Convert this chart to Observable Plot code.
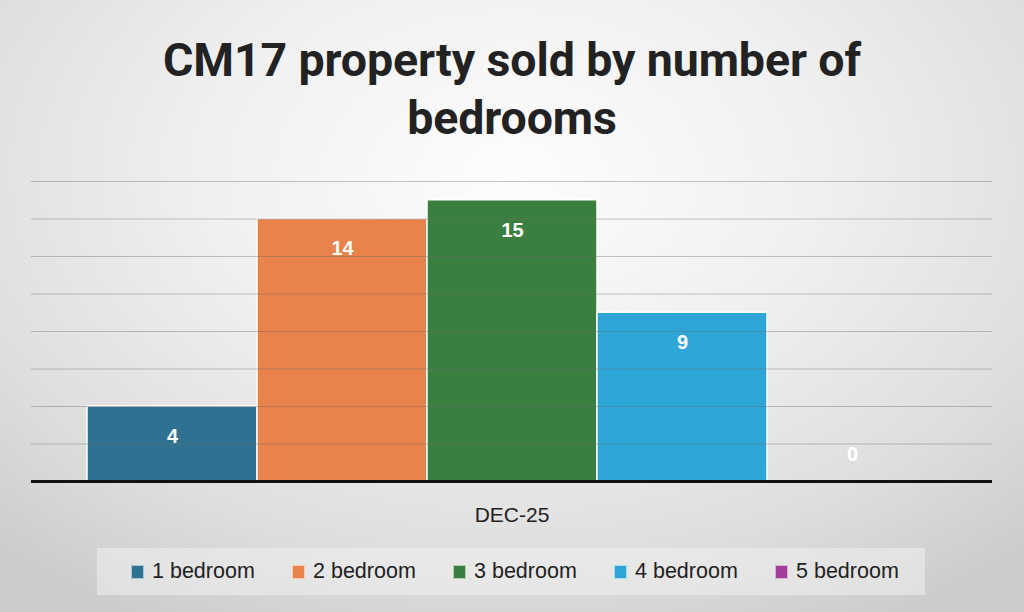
<!DOCTYPE html>
<html>
<head>
<meta charset="utf-8">
<script src="https://cdn.jsdelivr.net/npm/d3@7"></script>
<script src="https://cdn.jsdelivr.net/npm/@observablehq/plot@0.6"></script>
<style>
  html, body { margin: 0; padding: 0; }
  #page {
    position: relative; width: 1024px; height: 612px; overflow: hidden;
    background: radial-gradient(ellipse 75% 85% at 50% 28%, #fdfdfd 0%, #f0f0f0 40%, #dedede 75%, #cbcbcb 100%);
    font-family: "Liberation Sans", Arial, sans-serif;
  }
  #title {
    position: absolute; left: 0; top: 0; width: 1024px; height: 150px;
    text-align: center; font-family: Roboto, "Noto Sans", sans-serif; font-weight: 700;
    font-size: 46.5px; line-height: 58px; color: #222; padding-top: 31px; box-sizing: border-box;
    letter-spacing: -0.1px;
  }
  #chart { position: absolute; left: 0; top: 150px; }
  #legend {
    position: absolute; left: 97px; top: 548px; width: 828px; height: 47px;
    background: rgba(240,240,240,0.55); display: flex; align-items: center; box-sizing: border-box;
    padding-left: 34px;
  }
  .item { width: 161px; flex-shrink: 0; display: flex; align-items: center; font-size: 21.5px; color: #222; }
  .sw { width: 11px; height: 12px; margin-right: 8px; border: 0.5px solid rgba(255,255,255,0.6); }
</style>
</head>
<body>
<div id="page">
  <div id="title">CM17 property sold by number of<br>bedrooms</div>
  <div id="chart"></div>
  <div id="legend"></div>
</div>
<script>
const period = "DEC-25";
const bedrooms = ["1 bedroom", "2 bedroom", "3 bedroom", "4 bedroom", "5 bedroom"];
const counts = [4, 14, 15, 9, 0];
const colors = ["#2f7191", "#e8834b", "#3a7f40", "#2ea6d8", "#a23d9b"];
const gridTicks = [2, 4, 6, 8, 10, 12, 14, 16];

const data = bedrooms.map((b, i) => ({period, bedrooms: b, count: counts[i]}));

const plot = Plot.plot({
  width: 1024,
  height: 390,
  marginTop: 31,
  marginBottom: 59,
  marginLeft: 31,
  marginRight: 32,
  style: {background: "transparent", fontFamily: "'Liberation Sans', Arial, sans-serif", overflow: "visible"},
  fx: {domain: [period], padding: 0, label: null},
  x: {domain: bedrooms, paddingInner: 0, paddingOuter: 0.325, axis: null},
  y: {domain: [0, 16], axis: null},
  color: {domain: bedrooms, range: colors},
  marks: [
    Plot.barY(data, {fx: "period", x: "bedrooms", y: "count", fill: "bedrooms", stroke: "white", strokeWidth: 1.5}),
    Plot.ruleY(gridTicks, {stroke: "#6e6e6e", strokeOpacity: 0.4, strokeWidth: 1}),
    Plot.ruleY([0], {stroke: "#111", strokeWidth: 3}),
    Plot.text(data.filter(d => d.count > 0), {fx: "period", x: "bedrooms", y: "count", text: d => String(d.count),
      dy: 30, fill: "white", fontWeight: "bold", fontSize: 20}),
    Plot.text(data.filter(d => d.count === 0), {fx: "period", x: "bedrooms", y: "count", text: d => String(d.count),
      dy: -27, fill: "white", fontWeight: "bold", fontSize: 20}),
    Plot.axisFx({anchor: "bottom", label: null, tickSize: 0, tickPadding: 26, fontSize: 21, fill: "#222"})
  ]
});
document.getElementById("chart").appendChild(plot);

const lg = d3.select("#legend");
bedrooms.forEach((b, i) => {
  const it = lg.append("div").attr("class", "item");
  it.append("div").attr("class", "sw").style("background", colors[i]);
  it.append("span").text(b);
});
</script>
</body>
</html>
